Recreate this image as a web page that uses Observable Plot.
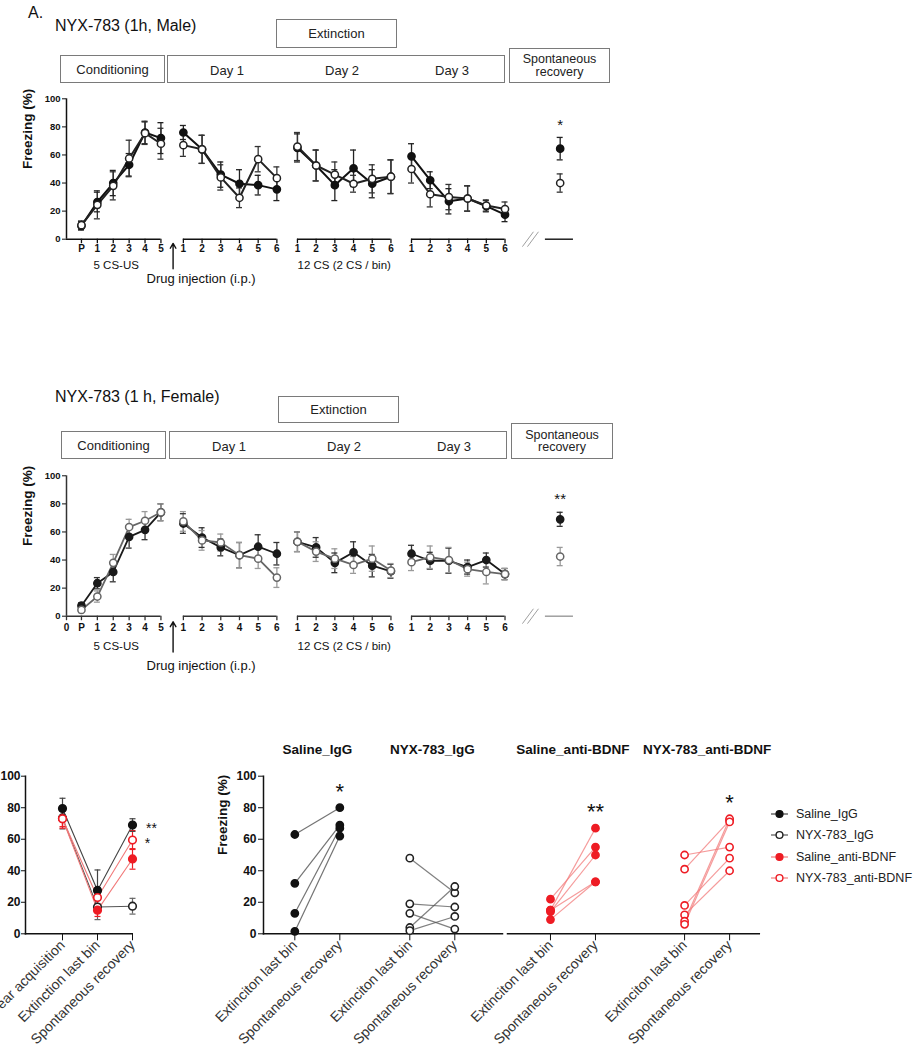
<!DOCTYPE html>
<html><head><meta charset="utf-8">
<script src="https://cdn.jsdelivr.net/npm/d3@7"></script>
<script src="https://cdn.jsdelivr.net/npm/@observablehq/plot@0.6"></script>
<style>
body{margin:0;background:#fff;font-family:"Liberation Sans",Arial,sans-serif;color:#111;}
#root{position:relative;width:924px;height:1046px;overflow:hidden;background:#fff;}
.abs{position:absolute;white-space:nowrap;}
.box{position:absolute;border:1.5px solid #7a7a7a;box-sizing:border-box;font-size:13px;color:#222;display:flex;align-items:center;justify-content:center;text-align:center;line-height:1.0;}
.lab{position:absolute;font-size:13px;color:#222;transform:translateX(-50%);white-space:nowrap;}
.legrow{display:flex;align-items:center;height:21.3px;font-size:12.5px;color:#222;}
.legrow svg{margin-right:8px;}
</style></head><body><div id="root"></div>
<script>
// ---------- Tick labels / categories ----------
const condLabels = ["P", "1", "2", "3", "4", "5"];
const binLabels = ["1", "2", "3", "4", "5", "6"];
const seriesNames = ["Saline", "NYX-783"];

// ---------- Male (1h) ----------
const maleSalineCond = [9.5, 26.5, 40, 53, 76, 72];
const maleSalineCondErr = [3, 7, 9, 8, 8, 11];
const maleNyxCond = [10, 24.5, 38, 57.5, 75.5, 68];
const maleNyxCondErr = [3, 10, 10, 13, 8, 11];
const maleSalineDay1 = [76, 64, 46, 39.5, 38.5, 35.5];
const maleSalineDay1Err = [5, 10, 9, 10, 7, 8];
const maleNyxDay1 = [67, 64, 44, 29.5, 57, 43.5];
const maleNyxDay1Err = [8, 10, 9, 7, 9, 8];
const maleSalineDay2 = [65, 52.5, 38.5, 50.5, 39.5, 44.5];
const maleSalineDay2Err = [10, 11, 11, 13, 10, 12];
const maleNyxDay2 = [66, 52.5, 46, 39.5, 43, 44.5];
const maleNyxDay2Err = [10, 11, 9, 6, 10, 12];
const maleSalineDay3 = [59, 42, 27, 29, 23.5, 17.5];
const maleSalineDay3Err = [9, 6, 9, 9, 4, 5];
const maleNyxDay3 = [50, 32, 30, 29, 24, 21.5];
const maleNyxDay3Err = [10, 9, 9, 9, 4, 5];
const maleSR = [64.5, 40];      // Saline, NYX-783
const maleSRErr = [8, 6.5];

// ---------- Female (1 h) ----------
const femaleSalineCond = [7.5, 23.5, 31.5, 56.5, 61.5, 74];
const femaleSalineCondErr = [2, 4, 7, 8, 7, 6];
const femaleNyxCond = [4.5, 14, 38, 63.5, 68, 74];
const femaleNyxCondErr = [2, 4, 6, 5.5, 6.5, 6];
const femaleSalineDay1 = [66, 56, 49, 43.5, 49.5, 44.5];
const femaleSalineDay1Err = [7, 7, 6, 9, 8.5, 8];
const femaleNyxDay1 = [67.5, 54, 52.5, 43.5, 41, 27.5];
const femaleNyxDay1Err = [7, 7, 6, 9, 7, 7];
const femaleSalineDay2 = [53, 49, 38, 45.5, 36, 32];
const femaleSalineDay2Err = [7, 7, 7, 7.5, 8, 5];
const femaleNyxDay2 = [53, 46, 41, 36.5, 41, 32.5];
const femaleNyxDay2Err = [7, 7, 7, 6, 9, 5];
const femaleSalineDay3 = [44.5, 39.5, 39.5, 35, 40, 30];
const femaleSalineDay3Err = [6, 6, 9, 5, 5, 4];
const femaleNyxDay3 = [38.5, 42, 40, 33.5, 31.5, 30];
const femaleNyxDay3Err = [6, 8, 9, 5, 8.5, 4];
const femaleSR = [69, 42.5];
const femaleSRErr = [5, 6.5];

// ---------- Bottom-left summary ----------
const phaseCats = ["Fear acquisition", "Extinction last bin", "Spontaneous recovery"];
const groupNames = ["Saline_IgG", "NYX-783_IgG", "Saline_anti-BDNF", "NYX-783_anti-BDNF"];
const meanSalineIgG = [79.5, 27.5, 69];
const errSalineIgG = [6.5, 13, 4];
const meanNyxIgG = [73.5, 17, 17.5];
const errNyxIgG = [7, 8, 5];
const meanSalineAnti = [73, 15, 47.5];
const errSalineAnti = [5, 4, 6.5];
const meanNyxAnti = [73, 23, 59.5];
const errNyxAnti = [6, 6, 6];

// ---------- Bottom-right individual animals ----------
const pairCats = ["Extinciton last bin", "Spontaneous recovery"];
const extSalineIgG = [63, 32, 13, 1.5];
const srSalineIgG = [80, 69, 67, 62];
const extNyxIgG = [48, 19, 13, 4, 2];
const srNyxIgG = [26, 17, 3, 30, 11];
const extSalineAnti = [22, 15, 14, 9, 15];
const srSalineAnti = [55, 67, 50, 33, 33];
const extNyxAnti = [50, 41, 18, 12, 8, 6];
const srNyxAnti = [55, 72, 48, 40, 73, 71];

// ================= helpers =================
const FONT = "'Liberation Sans', Arial, sans-serif";
const baseStyle = {background: "transparent", overflow: "visible", fontFamily: FONT, color: "#111"};
const root = document.getElementById("root");
function place(node, left, top) {
  node.style.position = "absolute"; node.style.left = left + "px"; node.style.top = top + "px";
  root.appendChild(node); return node;
}
function div(cls, left, top, html, extra = {}) {
  const d = document.createElement("div"); d.className = cls; d.innerHTML = html;
  Object.assign(d.style, extra); return place(d, left, top);
}
function box(left, top, w, h, html, extra = {}) {
  return div("box", left, top, html, Object.assign({width: w + "px", height: h + "px"}, extra));
}

// layout of the repeated-measures x axis (units of one extinction bin)
function segX(seg, i) {
  if (seg === "cond") return 0.8 + 0.85 * i;
  if (seg === "sr") return 26.4;
  const d = {d1: 0, d2: 1, d3: 2}[seg];
  return 6.25 + d * 6.1 + i;
}
function seriesRows(series, parts) {
  return parts.flatMap(([seg, vals, errs]) =>
    vals.map((v, i) => ({series, seg, i, x: segX(seg, i), v, e: errs[i]})));
}

function topPanel(rows, o) {
  const days = ["d1", "d2", "d3"];
  const ticks = [];
  if (o.zero) ticks.push({x: 0, label: "0"});
  condLabels.forEach((l, i) => ticks.push({x: segX("cond", i), label: l}));
  days.forEach(d => binLabels.forEach((l, i) => ticks.push({x: segX(d, i), label: l})));
  const axisSegs = [{x1: 0, x2: segX("cond", 5)}, ...days.map(d => ({x1: segX(d, 0), x2: segX(d, 5)}))];
  const srX = segX("sr", 0);
  const srSeg = [{x1: srX - 0.79, x2: srX + 0.71}];
  const breaks = [{x1: srX - 2.02, x2: srX - 1.43}, {x1: srX - 1.75, x2: srX - 1.16}];
  const arrowX = (segX("cond", 5) + segX("d1", 0)) / 2 + 0.05;
  const col = d => d.series === "Saline" ? o.salineStroke : o.nyxStroke;
  const ecol = d => d.series === "Saline" ? o.salineErr : o.nyxErr;
  const srSal = rows.filter(d => d.seg === "sr" && d.series === "Saline");
  return Plot.plot({
    width: 620, height: 205,
    marginLeft: 66, marginRight: 11.7, marginTop: 10.3, marginBottom: 54.3,
    x: {domain: [0, 29], axis: null},
    y: {domain: [0, 100]},
    color: {type: "identity"},
    style: baseStyle,
    marks: [
      Plot.ruleX([0], {y1: 0, y2: 100, stroke: o.axis, strokeWidth: 1.5}),
      Plot.axisY({ticks: [0, 20, 40, 60, 80, 100], tickSize: 4, tickPadding: 2, fontSize: 9.5, fontWeight: "bold", label: null}),
      Plot.text(["Freezing (%)"], {frameAnchor: "left", rotate: -90, dx: -39, text: d => d, fontSize: 13.5, fontWeight: "bold"}),
      Plot.ruleY(axisSegs, {y: 0, x1: "x1", x2: "x2", stroke: o.axis, strokeWidth: 1.5}),
      Plot.ruleY(srSeg, {y: 0, x1: "x1", x2: "x2", stroke: o.srAxis, strokeWidth: 1.4}),
      Plot.link(breaks, {x1: "x1", x2: "x2", y1: -5.3, y2: 5.3, stroke: "#a0a0a0", strokeWidth: 1}),
      Plot.ruleX(ticks, {x: "x", y1: 0, y2: -3.2, stroke: o.axis, strokeWidth: 1.3}),
      Plot.text(ticks, {x: "x", y: 0, dy: o.tickDy, text: "label", fontSize: 10, fontWeight: "bold"}),
      Plot.text(["5 CS-US"], {x: segX("cond", 2.5), y: 0, dx: -5, dy: o.subDy, text: d => d, fontSize: 11.5}),
      Plot.text(["12 CS (2 CS / bin)"], {x: segX("d2", 2.5), y: 0, dy: o.subDy, text: d => d, fontSize: 11.5}),
      Plot.arrow([0], {x1: arrowX, x2: arrowX, y1: o.arrowY[0], y2: o.arrowY[1], stroke: "#111", strokeWidth: 1.4, headLength: 6}),
      Plot.text(["Drug injection (i.p.)"], {x: arrowX, y: 0, dx: 28, dy: o.drugDy, text: d => d, fontSize: 13}),
      Plot.ruleX(rows, {x: "x", y1: d => d.v - d.e, y2: d => d.v + d.e, stroke: ecol, strokeWidth: 1.3}),
      Plot.ruleY(rows, {y: d => d.v + d.e, x1: d => d.x - 0.16, x2: d => d.x + 0.16, stroke: ecol, strokeWidth: 1.3}),
      Plot.ruleY(rows, {y: d => d.v - d.e, x1: d => d.x - 0.16, x2: d => d.x + 0.16, stroke: ecol, strokeWidth: 1.3}),
      Plot.line(rows.filter(d => d.seg !== "sr"), {x: "x", y: "v", z: d => d.series + d.seg, stroke: col, strokeWidth: o.lineWidth}),
      Plot.dot(rows, {x: "x", y: "v", r: 3.6, fill: d => d.series === "Saline" ? o.salineStroke : "white", stroke: col, strokeWidth: 1.5}),
      Plot.text(srSal, {x: "x", y: d => d.v + d.e + 9, text: () => o.star, fontSize: 15})
    ]
  });
}

// ================= headers (HTML) =================
div("abs", 28, 4, "A.", {fontSize: "16px"});
div("abs", 55, 17, "NYX-783 (1h, Male)", {fontSize: "16px"});
box(276, 19, 121, 29, "Extinction");
box(60, 55, 105, 28, "Conditioning");
box(167, 55, 338, 28, "");
box(509, 48, 101, 35, "Spontaneous<br>recovery", {fontSize: "12.5px"});
[["Day 1", 227], ["Day 2", 342], ["Day 3", 452]].forEach(([t, x]) => div("lab", x, 63, t));

div("abs", 55, 388, "NYX-783 (1 h, Female)", {fontSize: "16px"});
box(278, 396, 121, 27, "Extinction");
box(61, 431, 105, 28, "Conditioning");
box(169, 431, 338, 28, "");
box(511, 423, 102, 36, "Spontaneous<br>recovery", {fontSize: "12.5px"});
[["Day 1", 229], ["Day 2", 344], ["Day 3", 454]].forEach(([t, x]) => div("lab", x, 439, t));

// ================= panels =================
const maleRows = [
  ...seriesRows("Saline", [["cond", maleSalineCond, maleSalineCondErr], ["d1", maleSalineDay1, maleSalineDay1Err],
    ["d2", maleSalineDay2, maleSalineDay2Err], ["d3", maleSalineDay3, maleSalineDay3Err], ["sr", [maleSR[0]], [maleSRErr[0]]]]),
  ...seriesRows("NYX-783", [["cond", maleNyxCond, maleNyxCondErr], ["d1", maleNyxDay1, maleNyxDay1Err],
    ["d2", maleNyxDay2, maleNyxDay2Err], ["d3", maleNyxDay3, maleNyxDay3Err], ["sr", [maleSR[1]], [maleSRErr[1]]]])
];
const femaleRows = [
  ...seriesRows("Saline", [["cond", femaleSalineCond, femaleSalineCondErr], ["d1", femaleSalineDay1, femaleSalineDay1Err],
    ["d2", femaleSalineDay2, femaleSalineDay2Err], ["d3", femaleSalineDay3, femaleSalineDay3Err], ["sr", [femaleSR[0]], [femaleSRErr[0]]]]),
  ...seriesRows("NYX-783", [["cond", femaleNyxCond, femaleNyxCondErr], ["d1", femaleNyxDay1, femaleNyxDay1Err],
    ["d2", femaleNyxDay2, femaleNyxDay2Err], ["d3", femaleNyxDay3, femaleNyxDay3Err], ["sr", [femaleSR[1]], [femaleSRErr[1]]]])
];

place(topPanel(maleRows, {
  zero: false, salineStroke: "#111", nyxStroke: "#222", salineErr: "#222", nyxErr: "#333",
  axis: "#111", srAxis: "#111", lineWidth: 2, tickDy: 9.5, subDy: 26, drugDy: 40, arrowY: [-21, -3], star: "*"
}), 0, 88);

place(topPanel(femaleRows, {
  zero: true, salineStroke: "#1a1a1a", nyxStroke: "#666", salineErr: "#333", nyxErr: "#9a9a9a",
  axis: "#333", srAxis: "#999", lineWidth: 1.8, tickDy: 12, subDy: 30, drugDy: 50, arrowY: [-25.5, -4], star: "**"
}), 0, 465);

// ---------- bottom-left ----------
const capSymbol = {draw(ctx, size) { const r = Math.sqrt(size / Math.PI); ctx.moveTo(-r, 0); ctx.lineTo(r, 0); }};
const groupStyle = {
  "Saline_IgG": {fill: "#111", stroke: "#111", line: "#444", err: "#444"},
  "NYX-783_IgG": {fill: "white", stroke: "#222", line: "#555", err: "#666"},
  "Saline_anti-BDNF": {fill: "#ee1c24", stroke: "#ee1c24", line: "#f27a7a", err: "#ee1c24"},
  "NYX-783_anti-BDNF": {fill: "white", stroke: "#ee1c24", line: "#f27a7a", err: "#ee1c24"}
};
const summaryMeans = [meanSalineIgG, meanNyxIgG, meanSalineAnti, meanNyxAnti];
const summaryErrs = [errSalineIgG, errNyxIgG, errSalineAnti, errNyxAnti];
const summaryRows = groupNames.flatMap((g, k) => phaseCats.map((c, i) => ({g, c, v: summaryMeans[k][i], e: summaryErrs[k][i]})));
const gs = (key) => d => groupStyle[d.g][key];

place(Plot.plot({
  width: 175, height: 306, marginLeft: 25, marginRight: 43.3, marginTop: 35.7, marginBottom: 112.7,
  x: {type: "point", domain: phaseCats, padding: 0.524, align: 1},
  y: {domain: [0, 100]},
  color: {type: "identity"},
  style: baseStyle,
  marks: [
    Plot.frame({anchor: "left", strokeWidth: 1.5}),
    Plot.frame({anchor: "bottom", strokeWidth: 1.5}),
    Plot.axisY({ticks: [0, 20, 40, 60, 80, 100], tickSize: 4, tickPadding: 1, fontSize: 12, fontWeight: "bold", label: null}),
    Plot.axisX({tickSize: 7, tickPadding: 2, tickRotate: -45, fontSize: 14, fill: "#333", label: null}),
    Plot.line(summaryRows, {x: "c", y: "v", z: "g", stroke: gs("line"), strokeWidth: 1.1}),
    Plot.ruleX(summaryRows, {x: "c", y1: d => d.v - d.e, y2: d => d.v + d.e, stroke: gs("err"), strokeWidth: 1.2}),
    Plot.dot(summaryRows, {x: "c", y: d => d.v + d.e, symbol: capSymbol, r: 3, stroke: gs("err"), fill: "none", strokeWidth: 1.2}),
    Plot.dot(summaryRows, {x: "c", y: d => d.v - d.e, symbol: capSymbol, r: 3, stroke: gs("err"), fill: "none", strokeWidth: 1.2}),
    Plot.dot(summaryRows, {x: "c", y: "v", r: 3.8, fill: gs("fill"), stroke: gs("stroke"), strokeWidth: 1.6}),
    Plot.text([{c: phaseCats[2], v: meanSalineIgG[2]}], {x: "c", y: d => d.v - 2.5, dx: 19, text: () => "**", fontSize: 14}),
    Plot.text([{c: phaseCats[2], v: meanNyxAnti[2]}], {x: "c", y: d => d.v - 2.5, dx: 15, text: () => "*", fontSize: 14})
  ]
}), 0, 740);

// ---------- bottom-right ----------
function pairRows(g, ext, sr) { return ext.map((e, i) => ({g, ext: e, sr: sr[i]})); }
function pairPanel(groups, pairs, gap, o) {
  const gx = g => groups.indexOf(g) * gap;
  const tickPos = groups.flatMap(g => [gx(g), gx(g) + 1]);
  const tickLabel = new Map(tickPos.map((p, i) => [p.toFixed(3), pairCats[i % 2]]));
  const stars = groups.map((g, k) => ({g, s: o.stars[k], y: d3.max(pairs.filter(p => p.g === g), p => p.sr)})).filter(d => d.s);
  const marks = [
    Plot.frame({anchor: "bottom", strokeWidth: 1.5}),
    Plot.axisX({ticks: tickPos, tickFormat: d => tickLabel.get(d.toFixed(3)), tickSize: 7, tickPadding: 2, tickRotate: -45, fontSize: 14, fill: "#333", label: null}),
    Plot.link(pairs, {x1: d => gx(d.g), y1: "ext", x2: d => gx(d.g) + 1, y2: "sr", stroke: gs("line"), strokeOpacity: 0.75, strokeWidth: 1.2}),
    Plot.dot(pairs, {x: d => gx(d.g), y: "ext", r: 3.6, fill: gs("fill"), stroke: gs("stroke"), strokeWidth: 1.6}),
    Plot.dot(pairs, {x: d => gx(d.g) + 1, y: "sr", r: 3.6, fill: gs("fill"), stroke: gs("stroke"), strokeWidth: 1.6}),
    Plot.text(groups, {x: g => gx(g) + 0.5, y: 100, dy: -27, text: g => g, fontSize: 13.5, fontWeight: "bold"}),
    Plot.text(stars, {x: d => gx(d.g) + 1, y: d => d.y + 10, text: "s", fontSize: 22})
  ];
  if (o.yAxis) {
    marks.unshift(
      Plot.frame({anchor: "left", strokeWidth: 1.5}),
      Plot.axisY({ticks: [0, 20, 40, 60, 80, 100], tickSize: 5, tickPadding: 2, fontSize: 12, fontWeight: "bold", label: null}),
      Plot.text(["Freezing (%)"], {frameAnchor: "left", rotate: -90, dx: -41, text: d => d, fontSize: 13.5, fontWeight: "bold"})
    );
  }
  return Plot.plot({
    width: o.width, height: 306, marginLeft: o.marginLeft, marginRight: o.marginRight, marginTop: 35.7, marginBottom: 112.7,
    x: {domain: o.domain},
    y: {domain: [0, 100], axis: o.yAxis ? undefined : null},
    color: {type: "identity"},
    style: baseStyle,
    marks
  });
}
const igGroups = groupNames.slice(0, 2);
const antiGroups = groupNames.slice(2);
const igPairs = [...pairRows(groupNames[0], extSalineIgG, srSalineIgG), ...pairRows(groupNames[1], extNyxIgG, srNyxIgG)];
const antiPairs = [...pairRows(groupNames[2], extSalineAnti, srSalineAnti), ...pairRows(groupNames[3], extNyxAnti, srNyxAnti)];
place(pairPanel(igGroups, igPairs, 2.555, {width: 310, marginLeft: 63, marginRight: 8, domain: [-0.696, 4.615], yAxis: true, stars: ["*", ""]}), 200, 740);
place(pairPanel(antiGroups, antiPairs, 2.98, {width: 380, marginLeft: 107, marginRight: 21.2, domain: [-0.955, 4.64], yAxis: false, stars: ["**", "*"]}), 400, 740);

// ---------- legend ----------
const leg = document.createElement("div");
groupNames.forEach(g => {
  const s = groupStyle[g];
  const row = document.createElement("div"); row.className = "legrow";
  row.innerHTML = `<svg width="17" height="10"><line x1="0" y1="5" x2="17" y2="5" stroke="${s.line}" stroke-width="1.2"/>` +
    `<circle cx="8.5" cy="5" r="3.4" fill="${s.fill}" stroke="${s.stroke}" stroke-width="1.4"/></svg><span>${g}</span>`;
  leg.appendChild(row);
});
place(leg, 771, 803.5);
</script></body></html>
